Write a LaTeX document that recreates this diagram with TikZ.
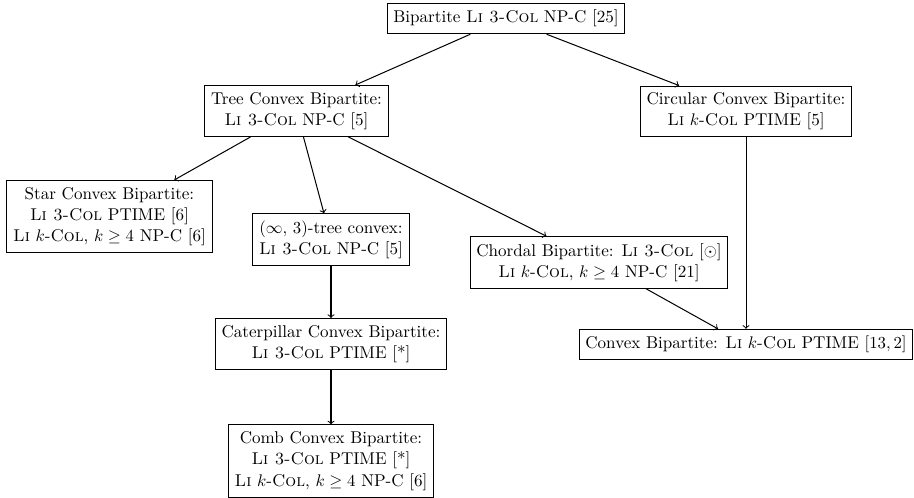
\documentclass[tikz,border=0pt]{standalone}
\begin{document}
\begin{tikzpicture}[x=0.595pt,y=-0.595pt,
  box/.style={draw,line width=0.6pt,align=center,inner xsep=3.7pt,inner ysep=4pt,
    font=\fontsize{10.15pt}{12.6pt}\selectfont},
  arr/.style={->,line width=0.6pt}]
\useasboundingbox (0,0) rectangle (914,498);
\node[box] (top) at (506,18.5) {Bipartite \textsc{Li 3-Col} NP-C [25]};
\node[box] (tree) at (296.5,111) {Tree Convex Bipartite:\\ \textsc{Li 3-Col} NP-C [5]};
\node[box] (circ) at (746,111.5) {Circular Convex Bipartite:\\ \textsc{Li} $k$-\textsc{Col} PTIME [5]};
\node[box] (star) at (109.5,216.5) {Star Convex Bipartite:\\ \textsc{Li 3-Col} PTIME [6]\\ \textsc{Li} $k$-\textsc{Col}, $k\geq 4$ NP-C [6]};
\node[box] (inf) at (331,239.5) {$(\infty,\,3)$-tree convex:\\ \textsc{Li 3-Col} NP-C [5]};
\node[box] (chord) at (599,262.5) {Chordal Bipartite: \textsc{Li 3-Col} [$\odot$]\\ \textsc{Li} $k$-\textsc{Col}, $k\geq 4$ NP-C [21]};
\node[box] (conv) at (746,344.5) {Convex Bipartite: \textsc{Li} $k$-\textsc{Col} PTIME $[13,2]$};
\node[box] (cat) at (331,344) {Caterpillar Convex Bipartite:\\ \textsc{Li 3-Col} PTIME [*]};
\node[box] (comb) at (331,461) {Comb Convex Bipartite:\\ \textsc{Li 3-Col} PTIME [*]\\ \textsc{Li} $k$-\textsc{Col}, $k\geq 4$ NP-C [6]};
\draw[arr] (top) -- (tree);
\draw[arr] (top) -- (circ);
\draw[arr] (tree) -- (star);
\draw[arr] (tree) -- (inf);
\draw[arr] (tree) -- (chord);
\draw[arr] (inf) -- (cat);
\draw[arr] (cat) -- (comb);
\draw[arr] (chord) -- (conv);
\draw[arr] (circ) -- (conv);
\end{tikzpicture}
\end{document}
